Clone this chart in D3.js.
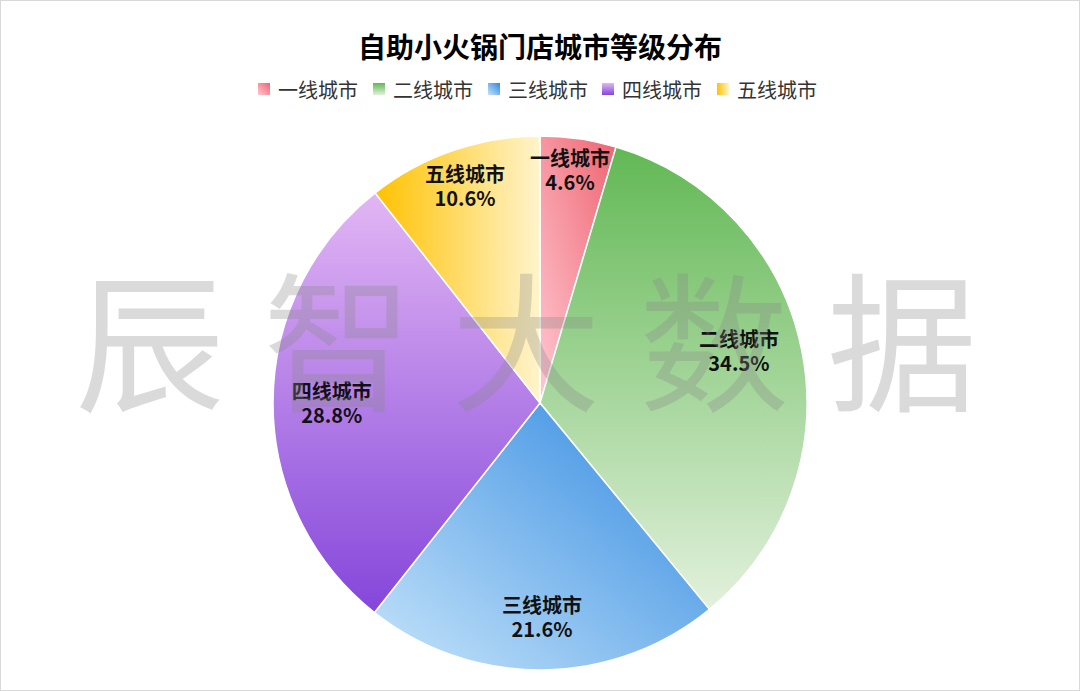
<!DOCTYPE html><html><head><meta charset="utf-8"><script src="https://cdn.jsdelivr.net/npm/d3@7"></script>
<style>body{margin:0;background:#fff}svg{display:block}</style></head><body><svg id="c" width="1080" height="691"></svg>
<script>
const categories=["一线城市","二线城市","三线城市","四线城市","五线城市"];
const values=[4.6,34.5,21.6,28.8,10.6];
const grads=[
 {a:"#ee6470",b:"#ffc8d2",x1:1,y1:0,x2:0,y2:1},
 {a:"#62b854",b:"#e2f1dc",x1:0,y1:0,x2:0,y2:1},
 {a:"#2f88e0",b:"#c6e4fa",x1:1,y1:0,x2:0,y2:1},
 {a:"#e2b6f4",b:"#8446da",x1:0,y1:0,x2:0,y2:1},
 {a:"#ffc200",b:"#fff4cc",x1:0,y1:0,x2:1,y2:0}];
const svg=d3.select("#c");
const F="'Noto Sans CJK SC','Noto Sans',sans-serif";
svg.append("rect").attr("x",0.5).attr("y",0.5).attr("width",1079).attr("height",690).attr("fill","#fff").attr("stroke","#d9d9d9");
const defs=svg.append("defs");
grads.forEach((g,i)=>{const lg=defs.append("linearGradient").attr("id","g"+i).attr("x1",g.x1).attr("y1",g.y1).attr("x2",g.x2).attr("y2",g.y2);
 lg.append("stop").attr("offset",0).attr("stop-color",g.a);lg.append("stop").attr("offset",1).attr("stop-color",g.b);});
svg.append("text").attr("x",540).attr("y",58).attr("text-anchor","middle").attr("font-family",F).attr("font-size",28).attr("font-weight","bold").text("自助小火锅门店城市等级分布");
const lx=[258,373,488,602,717];
categories.forEach((c,i)=>{svg.append("rect").attr("x",lx[i]).attr("y",83).attr("width",12).attr("height",12).attr("fill",`url(#g${i})`);
 svg.append("text").attr("x",lx[i]+20).attr("y",98).attr("font-family",F).attr("font-size",20).attr("fill","#333").text(c);});
const cx=540,cy=403,R=267;
const pie=d3.pie().sort(null).value(d=>d)(values);
const arc=d3.arc().innerRadius(0).outerRadius(R);
const g=svg.append("g").attr("transform",`translate(${cx},${cy})`);
pie.forEach((p,i)=>{
 g.append("path").attr("d",arc(p)).attr("fill",`url(#g${i})`).attr("stroke","#fff").attr("stroke-width",1.5);
});
svg.append("text").attr("x",545).attr("y",400).attr("text-anchor","middle").attr("font-family",F).attr("font-size",150).attr("fill","#888").attr("opacity",0.3).attr("letter-spacing",38).text("辰智大数据");
const lr=[0.8,0.76,0.8,0.78,0.86];
pie.forEach((p,i)=>{
 const a=d3.arc().innerRadius(R*lr[i]).outerRadius(R*lr[i]);
 let [x,y]=a.centroid(p);
 if(i===0){x=30;y=-233;}
 if(i===1){y-=12;}
 const t=g.append("text").attr("text-anchor","middle").attr("font-family",F).attr("font-size",20).attr("font-weight","bold").attr("fill","#111");
 t.append("tspan").attr("x",x).attr("y",y-4).text(categories[i]);
 t.append("tspan").attr("x",x).attr("y",y+20).text(values[i].toFixed(1)+"%");
});
</script></body></html>
